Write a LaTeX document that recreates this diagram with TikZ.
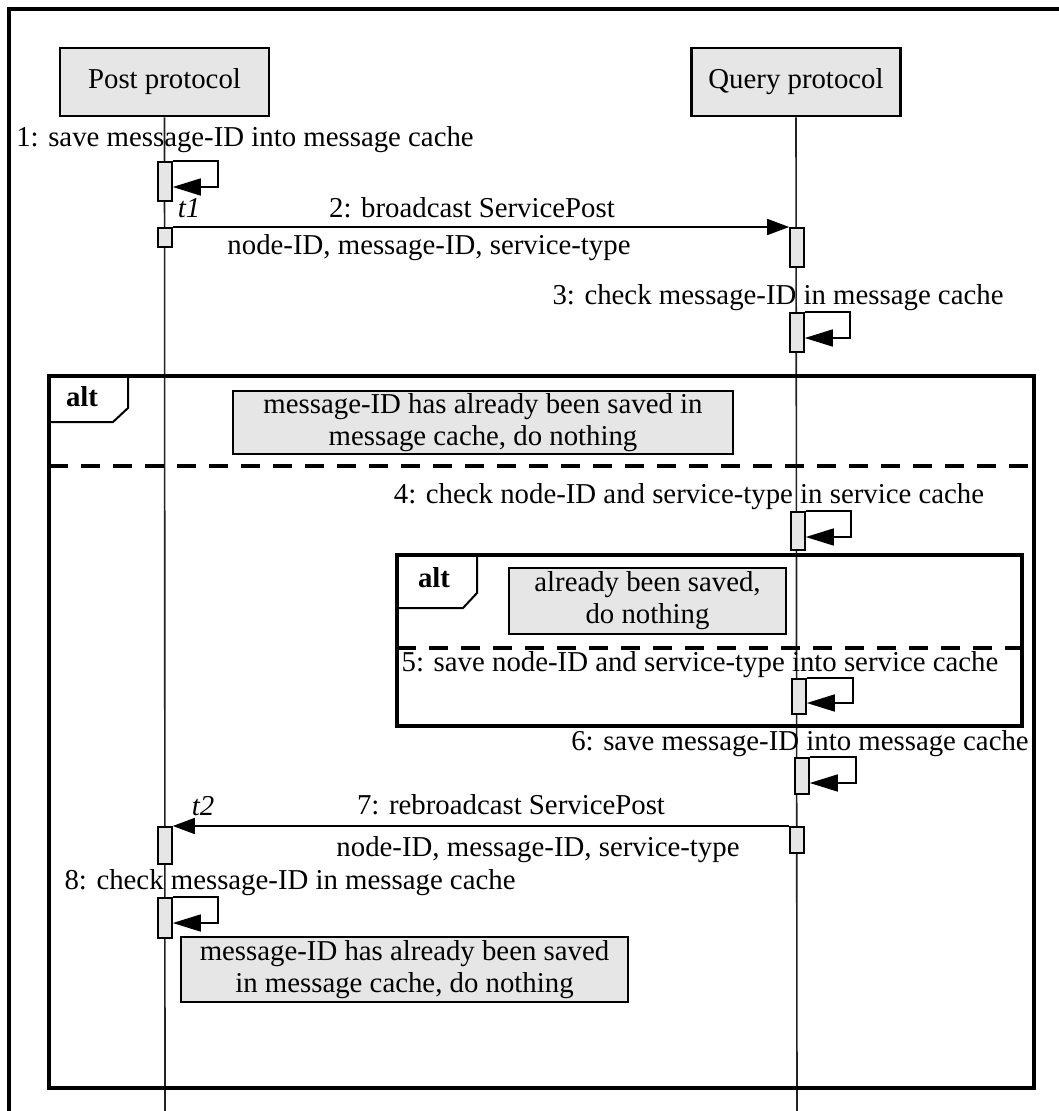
\documentclass[tikz,border=0pt]{standalone}
\usepackage{fontspec}
\setmainfont{Liberation Serif}
\usetikzlibrary{arrows.meta}
\definecolor{boxfill}{HTML}{E6E6E6}
\definecolor{lifeln}{HTML}{222222}
\begin{document}
\begin{tikzpicture}[x=1pt,y=-1pt,
  every node/.style={font=\fontsize{28.8pt}{32pt}\selectfont},
  head/.style={draw,line width=2.6pt,fill=boxfill,minimum width=209pt,minimum height=68pt,inner sep=0pt},
  life/.style={draw=lifeln,line width=1.6pt},
  actbar/.style={draw,line width=1.6pt,fill=boxfill,minimum width=14pt,inner sep=0pt,anchor=north},
  msg/.style={line width=1.6pt,-{Triangle[length=22pt,width=16pt]}},
  selfmsg/.style={line width=1.6pt,-{Triangle[length=28pt,width=17pt]}},
  note/.style={draw,line width=1.6pt,fill=boxfill,align=center,inner sep=0pt},
  lbl/.style={inner sep=0pt},
  frame/.style={line width=3.4pt},
  sep/.style={line width=3.2pt,dash pattern=on 19pt off 13pt},
  tag/.style={inner sep=0pt,font=\fontsize{28.8pt}{32pt}\selectfont\bfseries}]
\useasboundingbox (0,0) rectangle (1058,1111);

% outer border
\draw[line width=4pt] (9,1115) -- (9,9) -- (1062,9);

% lifeline heads
\node[head] (post) at (164.5,82) {Post protocol};
\node[head] (query) at (796,82) {Query protocol};

% lifelines
\coordinate (postend) at (165,1111);
\coordinate (queryend) at (797,1111);
\draw[life] (post.south) -- (postend);
\draw[life] (query.south) -- (queryend);

% combined fragments
\draw[frame] (49,376) rectangle (1034,1088);
\draw[line width=2pt] (49,422) -- (113,422) -- (128,408) -- (128,376);
\node[tag] (alt1) at (82,397) {alt};
\draw[sep] (49,466) -- (1034,466);

\draw[frame] (397,555) rectangle (1022,726);
\draw[line width=2pt] (397,608) -- (463,608) -- (477,593) -- (477,555);
\node[tag] (alt2) at (434,578) {alt};
\draw[sep] (397,648) -- (1022,648);

% notes
\node[note,minimum width=500pt,minimum height=63pt] (n1) at (483,422.5)
  {message-ID has already been saved in\\message cache, do nothing};
\node[note,minimum width=277pt,minimum height=66pt] (n2) at (647.5,601)
  {already been saved,\\do nothing};
\node[note,minimum width=447pt,minimum height=65pt] (n3) at (404.5,969.5)
  {message-ID has already been saved\\in message cache, do nothing};

% activation bars
\node[actbar,minimum height=39pt] (b1) at (165,161) {};
\node[actbar,minimum height=19pt] (b2) at (165,227) {};
\node[actbar,minimum height=39pt] (q2) at (797,227) {};
\node[actbar,minimum height=39pt] (q3) at (797,312) {};
\node[actbar,minimum height=38pt] (q4) at (798,511) {};
\node[actbar,minimum height=35pt] (q5) at (799,678) {};
\node[actbar,minimum height=36pt] (q6) at (802,757) {};
\node[actbar,minimum height=26pt] (q7) at (797,826) {};
\node[actbar,minimum height=37pt] (b7) at (165,826) {};
\node[actbar,minimum height=40pt] (b8) at (165,897) {};

% message labels
\node[lbl] (m1) at (245,140) {1: save message-ID into message cache};
\node[lbl] (m2) at (472,208) {2: broadcast ServicePost};
\node[lbl] (m2a) at (429,248) {node-ID, message-ID, service-type};
\node[lbl] (m3) at (778,298) {3: check message-ID in message cache};
\node[lbl] (m4) at (689,497) {4: check node-ID and service-type in service cache};
\node[lbl] (m5) at (700,665) {5: save node-ID and service-type into service cache};
\node[lbl] (m6) at (800,744) {6: save message-ID into message cache};
\node[lbl] (m7) at (511,805) {7: rebroadcast ServicePost};
\node[lbl] (m7a) at (538,850) {node-ID, message-ID, service-type};
\node[lbl] (m8) at (290,883) {8: check message-ID in message cache};
\node[lbl] (t1) at (189,208) {\itshape t1};
\node[lbl] (t2) at (203,806) {\itshape t2};

% self messages
\draw[selfmsg] (b1.north east) -- ++(45,0) -- ++(0,26) -- ++(-45,0);
\draw[selfmsg] (q3.north east) -- ++(45,0) -- ++(0,26) -- ++(-45,0);
\draw[selfmsg] (q4.north east) -- ++(45,0) -- ++(0,26) -- ++(-45,0);
\draw[selfmsg] (q5.north east) -- ++(46,0) -- ++(0,25) -- ++(-46,0);
\draw[selfmsg] (q6.north east) -- ++(46,0) -- ++(0,26) -- ++(-46,0);
\draw[selfmsg] (b8.north east) -- ++(45,0) -- ++(0,26) -- ++(-45,0);

% messages between lifelines
\draw[msg] (b2.north east) -- (q2.north west);
\draw[msg] (q7.north west) -- (b7.north east);
\end{tikzpicture}
\end{document}
